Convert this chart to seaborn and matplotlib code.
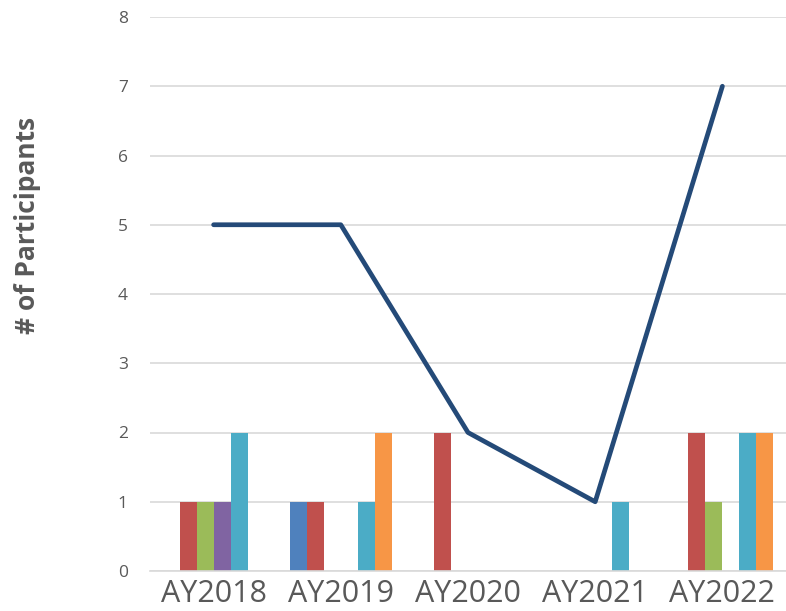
import numpy as np
import pandas as pd
import matplotlib
matplotlib.use('Agg')
import matplotlib.pyplot as plt
import seaborn as sns

# participants per academic year, one list per series
years = ['AY2018', 'AY2019', 'AY2020', 'AY2021', 'AY2022']
series_names = ['Series 1', 'Series 2', 'Series 3', 'Series 4', 'Series 5', 'Series 6']
series_1 = [0, 1, 0, 0, 0]
series_2 = [1, 1, 2, 0, 2]
series_3 = [1, 0, 0, 0, 1]
series_4 = [1, 0, 0, 0, 0]
series_5 = [2, 1, 0, 1, 2]
series_6 = [0, 2, 0, 0, 2]
totals = [5, 5, 2, 1, 7]

colours = ['#4F81BD', '#C0504D', '#9BBB59', '#8064A2', '#4BACC6', '#F79646']
line_colour = '#244A78'
text_grey = '#595959'
grid_grey = '#D9D9D9'

# long form table for seaborn
rows = []
for name, vals in zip(series_names,
                      [series_1, series_2, series_3, series_4, series_5, series_6]):
    for yr, v in zip(years, vals):
        rows.append({'year': yr, 'series': name, 'count': v})
df = pd.DataFrame(rows)

sns.set_style('white')
plt.rcParams['font.family'] = ['Open Sans', 'DejaVu Sans']

fig = plt.figure(figsize=(7.86, 6.11), dpi=100)
ax = fig.add_axes([150 / 786, 1 - 571 / 611, 636 / 786, 554 / 611])

sns.barplot(data=df, x='year', y='count', hue='series', order=years,
            hue_order=series_names, palette=colours, saturation=1,
            width=0.8, linewidth=0, legend=False, ax=ax, zorder=2)

line_df = pd.DataFrame({'pos': np.arange(len(years)), 'total': totals})
sns.lineplot(data=line_df, x='pos', y='total', color=line_colour,
             linewidth=3.4, ax=ax, zorder=3, solid_joinstyle='round',
             solid_capstyle='round')

ax.set_xlim(-0.5, len(years) - 0.5)
ax.set_ylim(0, 8)
ax.set_yticks(range(0, 9))
ax.yaxis.grid(True, color=grid_grey, linewidth=1.2, zorder=0)
ax.set_axisbelow(True)

for side in ['top', 'right', 'left']:
    ax.spines[side].set_visible(False)
ax.spines['bottom'].set_color(grid_grey)
ax.spines['bottom'].set_linewidth(1.2)

# category boxes under the axis
ax.set_xticks(range(len(years)))
ax.set_xticklabels(years)
ax.set_xticks(np.arange(-0.5, len(years)), minor=True)
ax.tick_params(axis='x', which='major', length=0, pad=6,
               labelsize=22, labelcolor=text_grey)
ax.tick_params(axis='x', which='minor', length=30, width=1.2,
               color=grid_grey, direction='out')
ax.tick_params(axis='y', length=0, pad=16, labelsize=12.5,
               labelcolor=text_grey)

ax.set_xlabel('')
ax.set_ylabel('# of Participants', fontsize=19, fontweight='bold',
              color=text_grey, ha='center', va='center')
ax.yaxis.set_label_coords(-0.192, 0.624)

plt.savefig('out.png', dpi=100)
